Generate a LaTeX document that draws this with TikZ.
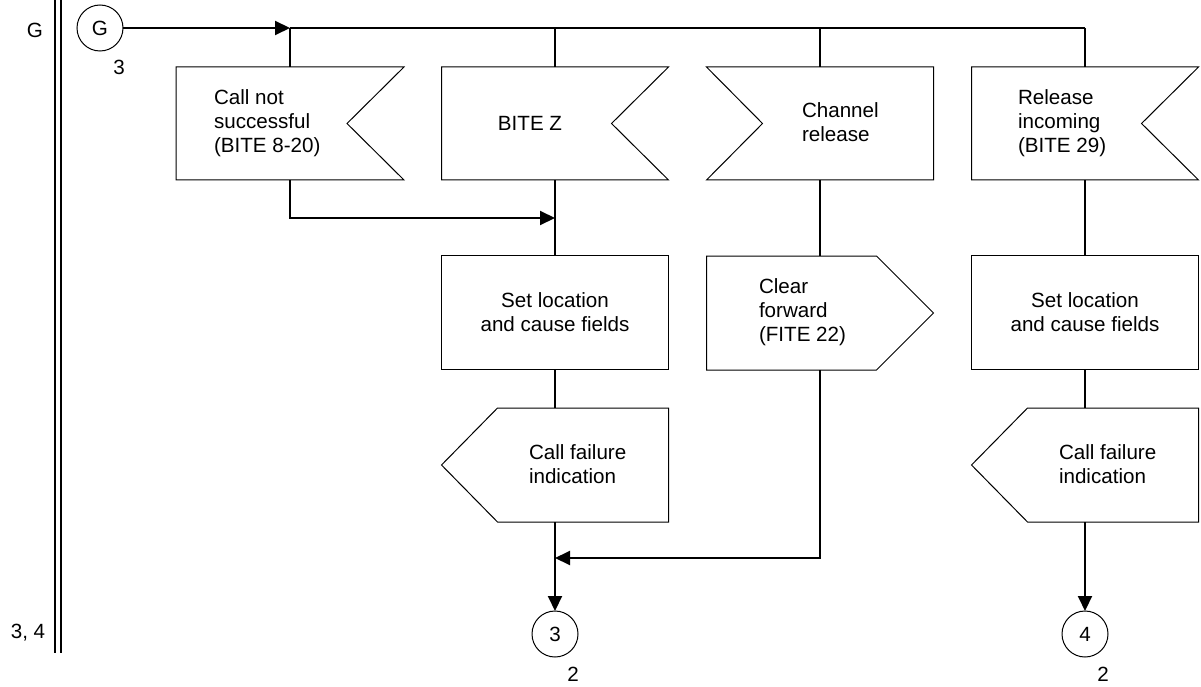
\documentclass[tikz,border=0pt]{standalone}
\usepackage{fontspec}
\setmainfont{Liberation Sans}
\usetikzlibrary{arrows.meta}
\begin{document}
\begin{tikzpicture}[x=1pt,y=-1pt,
  every node/.style={font=\fontsize{20.6pt}{24pt}\selectfont, inner sep=0pt, outer sep=0pt},
  shp/.style={draw=none, minimum width=227pt, minimum height=114pt, align=center},
  outl/.style={draw=black, line width=1pt, line join=miter},
  conn/.style={draw=black, line width=2pt},
  arr/.style={conn, -{Triangle[length=15pt,width=14pt]}},
  circ/.style={circle, draw=black, line width=1pt, minimum size=46pt},
  txt/.style={align=left, anchor=west},
  rail/.style={draw=black, line width=1.3pt}
]
\useasboundingbox (0,0) rectangle (1201,687);

% left rail
\draw[rail] (55,0) -- (55,653);
\draw[rail] (61,0) -- (61,653);
\node (lG) at (35,30) {G};
\node (l34) at (28,633) {3, 4};

% connector G
\node[circ] (G) at (100,28) {G};
\node (G3) at (119,67) {3};

% row 1: inputs
\node[shp, minimum width=228pt, minimum height=113pt] (b1) at (290,123.5) {};
\node[shp, minimum height=113pt] (b2) at (555,123.5) {};
\node[shp, minimum height=113pt] (b3) at (820,123.5) {};
\node[shp, minimum height=113pt] (b4) at (1085,123.5) {};
\node[txt] (t1) at (214,123) {Call not\\successful\\(BITE 8-20)};
\node (t2) at (530,123) {BITE Z};
\node[txt] (t3) at (802,122) {Channel\\release};
\node[txt] (t4) at (1018,123) {Release\\incoming\\(BITE 29)};

% row 2
\node[shp] (s2) at (555,312) {Set location\\and cause fields};
\node[shp] (cf) at (820,313) {};
\node[txt] (tcf) at (759,312) {Clear\\forward\\(FITE 22)};
\node[shp] (s4) at (1085,312) {Set location\\and cause fields};

% row 3: outputs
\node[shp] (f2) at (555,465) {};
\node[txt] (tf2) at (529,464) {Call failure\\indication};
\node[shp] (f4) at (1085,465) {};
\node[txt] (tf4) at (1059,464) {Call failure\\indication};

% end connectors
\node[circ] (c3) at (555,634) {3};
\node (c3l) at (573,674) {2};
\node[circ] (c4) at (1085,634) {4};
\node (c4l) at (1103,674) {2};

% outlines
\draw[outl] (b1.north west) -- (b1.north east) -- ([xshift=-57pt]b1.east) -- (b1.south east) -- (b1.south west) -- cycle;
\draw[outl] (b2.north west) -- (b2.north east) -- ([xshift=-57pt]b2.east) -- (b2.south east) -- (b2.south west) -- cycle;
\draw[outl] (b3.north west) -- (b3.north east) -- (b3.south east) -- (b3.south west) -- ([xshift=56pt]b3.west) -- cycle;
\draw[outl] (b4.north west) -- (b4.north east) -- ([xshift=-57pt]b4.east) -- (b4.south east) -- (b4.south west) -- cycle;
\draw[outl] (s2.north west) rectangle (s2.south east);
\draw[outl] (s4.north west) rectangle (s4.south east);
\draw[outl] (cf.north west) -- ([xshift=-57pt]cf.north east) -- (cf.east) -- ([xshift=-57pt]cf.south east) -- (cf.south west) -- cycle;
\draw[outl] (f2.west) -- ([xshift=56pt]f2.north west) -- (f2.north east) -- (f2.south east) -- ([xshift=56pt]f2.south west) -- cycle;
\draw[outl] (f4.west) -- ([xshift=56pt]f4.north west) -- (f4.north east) -- (f4.south east) -- ([xshift=56pt]f4.south west) -- cycle;

% connectors
\coordinate (j1) at (b1.north |- G.east);
\coordinate (j2) at (b2.north |- G.east);
\coordinate (j3) at (b3.north |- G.east);
\coordinate (j4) at (b4.north |- G.east);
\draw[arr] (G.east) -- (j1);
\draw[conn] (j1) -- (j4);
\draw[conn] (j1) -- (b1.north);
\draw[conn] (j2) -- (b2.north);
\draw[conn] (j3) -- (b3.north);
\draw[conn] (j4) -- (b4.north);

\coordinate (k1) at (290,218);
\coordinate (m1) at (s2.north |- k1);
\draw[arr] (b1.south) -- (k1) -- (m1);

\draw[conn] (b2.south) -- (s2.north);
\draw[conn] (s2.south) -- (f2.north);
\draw[arr] (f2.south) -- (c3.north);

\draw[conn] (b3.south) -- (cf.north);
\coordinate (k3) at (820,558);
\coordinate (m3) at (f2.south |- k3);
\draw[arr] (cf.south) -- (k3) -- (m3);

\draw[conn] (b4.south) -- (s4.north);
\draw[conn] (s4.south) -- (f4.north);
\draw[arr] (f4.south) -- (c4.north);
\end{tikzpicture}
\end{document}
